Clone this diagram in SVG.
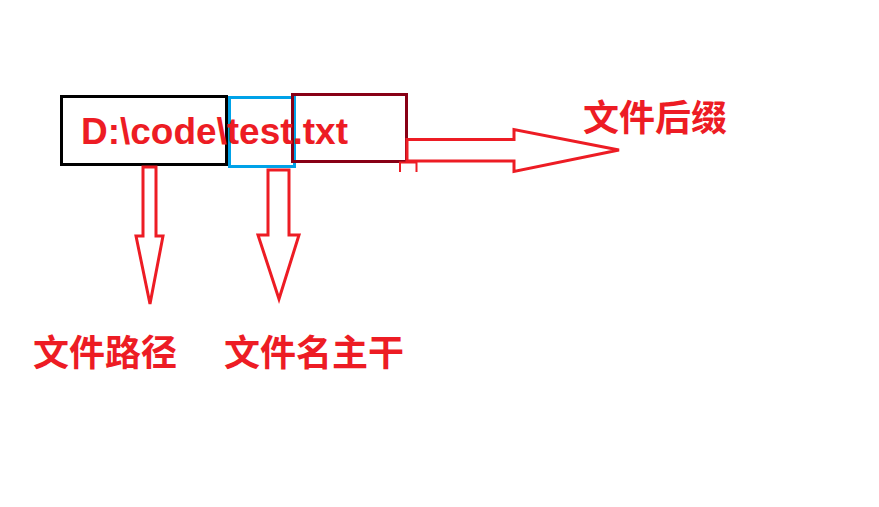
<svg xmlns="http://www.w3.org/2000/svg" width="879" height="507" viewBox="0 0 879 507">
<style>
.lbl{font-family:"Noto Sans CJK SC","Microsoft YaHei",sans-serif;font-weight:bold;font-size:36px;fill:#ed1c24}
.path{font-family:"Liberation Sans",Arial,sans-serif;font-weight:bold;font-size:37px;fill:#ed1c24}
.arr{fill:#fff;stroke:#ed1c24;stroke-width:3;stroke-linejoin:miter}
.box{fill:none;stroke-width:3}
</style>
<rect width="879" height="507" fill="#fff"/>
<g id="filename">
<rect class="box" x="61.5" y="96.5" width="165" height="68" stroke="#000"/>
<rect class="box" x="229.5" y="97.5" width="65" height="69" stroke="#00a2e8"/>
<rect class="box" x="292.5" y="94.5" width="114" height="67" stroke="#880015"/>
<text class="path" x="81" y="144" textLength="267" lengthAdjust="spacingAndGlyphs">D:\code\test.txt</text>
</g>
<g id="connectors">
<polygon class="arr" points="143,167 156,167 156,236 163,236 150,304 136,236 143,236"/>
<polygon class="arr" points="268,170 289,170 289,235 299,235 279,299 258,235 268,235"/>
<polygon class="arr" points="407,139.5 514,139.5 514,129.5 619,150 514,171.5 514,161 407,161"/>
<path d="M400,172 V162.5 H416.5 V172" fill="none" stroke="#ed1c24" stroke-width="2"/>
</g>
<g id="label-path"><text class="lbl" x="33" y="366">文件路径</text></g>
<g id="label-stem"><text class="lbl" x="224" y="366">文件名主干</text></g>
<g id="label-ext"><text class="lbl" x="583" y="131">文件后缀</text></g>
</svg>
